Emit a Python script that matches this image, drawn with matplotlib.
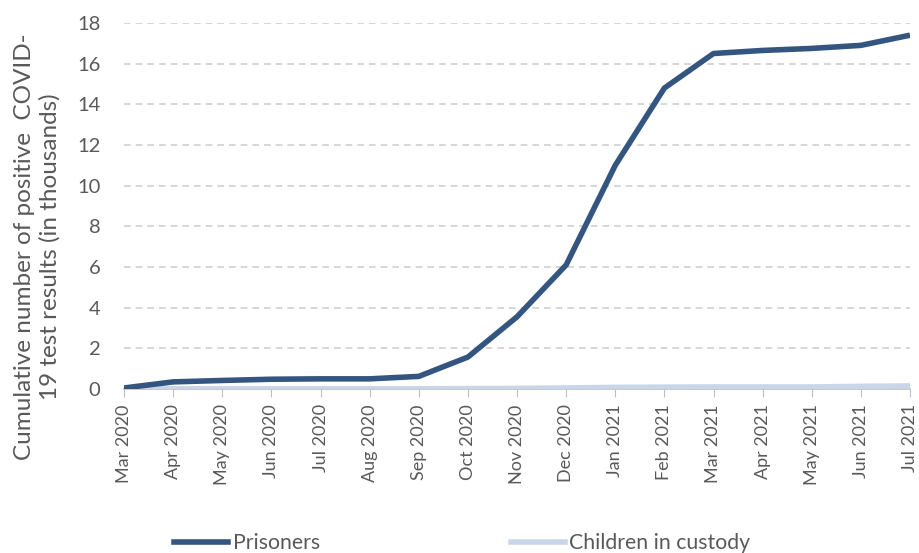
import matplotlib
matplotlib.use("Agg")
import matplotlib.pyplot as plt
from matplotlib.lines import Line2D

months = ["Mar 2020", "Apr 2020", "May 2020", "Jun 2020", "Jul 2020", "Aug 2020",
          "Sep 2020", "Oct 2020", "Nov 2020", "Dec 2020", "Jan 2021", "Feb 2021",
          "Mar 2021", "Apr 2021", "May 2021", "Jun 2021", "Jul 2021"]
prisoners = [0.05, 0.35, 0.42, 0.48, 0.5, 0.5, 0.62, 1.57, 3.55, 6.1, 11.0, 14.8,
             16.5, 16.65, 16.75, 16.9, 17.4]
children = [0.0, 0.01, 0.01, 0.01, 0.01, 0.01, 0.01, 0.02, 0.03, 0.05, 0.08, 0.09,
            0.1, 0.1, 0.1, 0.13, 0.15]

plt.rcParams['font.family'] = ['Lato', 'DejaVu Sans']
text_color = "#595959"

W, H = 919, 553
fig = plt.figure(figsize=(W / 100, H / 100), dpi=100)
ax = fig.add_axes([124 / W, 1 - 389 / H, (910 - 124) / W, (389 - 23) / H])

x = list(range(len(months)))
c_pris = "#335580"
c_child = "#C9D6EA"
ax.plot(x, children, color=c_child, lw=4, solid_capstyle="butt", zorder=3)
ax.plot(x, prisoners, color=c_pris, lw=4, solid_capstyle="butt", zorder=4)

ax.set_xlim(0, len(months) - 1)
ax.set_ylim(0, 18)
ax.set_yticks(range(0, 19, 2))
ax.set_xticks(x)
ax.set_xticklabels(months, rotation=90, fontsize=13, color=text_color)
ax.tick_params(axis='y', length=0, labelsize=14.5, labelcolor=text_color, pad=17)
ax.tick_params(axis='x', length=6, color="#BFBFBF", pad=5)
ax.grid(axis='y', color="#D0D0D0", linestyle=(0, (4, 3)), lw=1.2)
ax.set_axisbelow(True)
for s in ["top", "right", "left"]:
    ax.spines[s].set_visible(False)
ax.spines["bottom"].set_color("#BFBFBF")
ax.spines["bottom"].set_linewidth(1.2)

fig.text(37 / W, 1 - 247 / H,
         "Cumulative number of positive  COVID-\n19 test results (in thousands)",
         rotation=90, ha="center", va="center", multialignment="center",
         fontsize=17.5, color=text_color, linespacing=1.25)

handles = [Line2D([0], [0], color=c_pris, lw=4),
           Line2D([0], [0], color=c_child, lw=4)]
fig.legend(handles, ["Prisoners", "Children in custody"], loc="center left",
           bbox_to_anchor=(155 / W, 1 - 543 / H), ncol=2, frameon=False, fontsize=15.3,
           handlelength=2.55, handletextpad=0.2, columnspacing=9.0, labelcolor=text_color)

fig.savefig("out.png", dpi=100)
